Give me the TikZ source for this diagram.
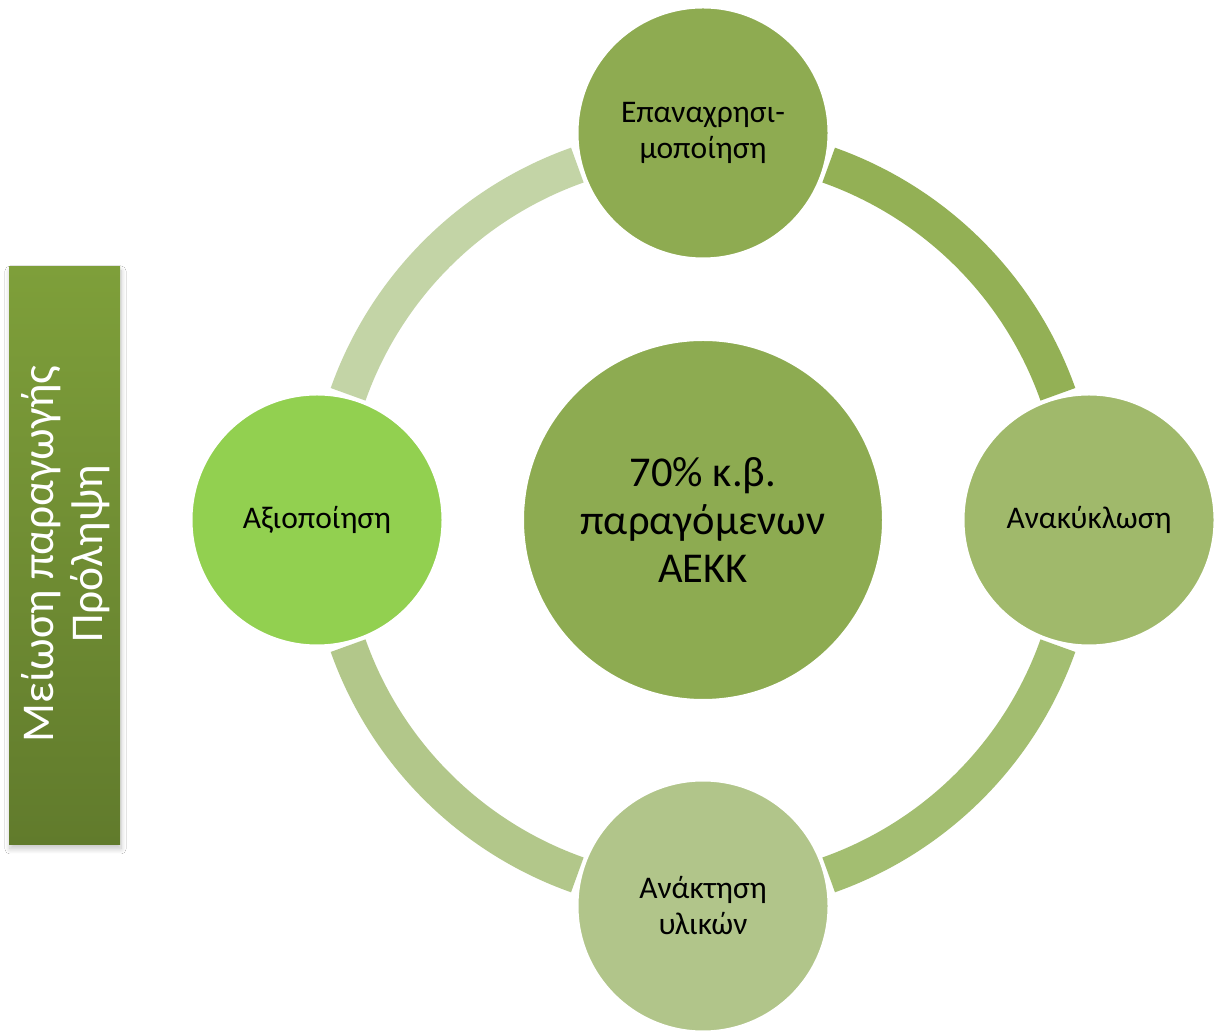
\documentclass[tikz,border=0pt]{standalone}
\usepackage{fontspec}
\setmainfont{Carlito}
\usetikzlibrary{shadows.blur}
\definecolor{cTop}{HTML}{8EAB51}
\definecolor{cMid}{HTML}{8DAB51}
\definecolor{cRight}{HTML}{A0B96B}
\definecolor{cBottom}{HTML}{B1C58A}
\definecolor{cLeft}{HTML}{92D050}
\definecolor{aTR}{HTML}{93B055}
\definecolor{aBR}{HTML}{A3BE71}
\definecolor{aBL}{HTML}{B2C78A}
\definecolor{aTL}{HTML}{C3D4A6}
\definecolor{barTop}{HTML}{7E9F3A}
\definecolor{barBot}{HTML}{617B2C}
\tikzset{
  ringseg/.style={line width=37pt, line cap=butt},
  bubble/.style={circle, draw=white, line width=3pt, inner sep=0pt,
    minimum size=252pt, align=center, text=black,
    font=\fontsize{31.5}{36}\selectfont},
  hub/.style={circle, draw=white, line width=3pt, inner sep=0pt,
    minimum size=361pt, align=center, text=black, fill=cMid,
    font=\fontsize{42.5}{48}\selectfont},
  sidebar/.style={rectangle, inner sep=0pt, minimum width=111pt,
    minimum height=578pt, top color=barTop, bottom color=barBot,
    blur shadow={shadow xshift=1pt, shadow yshift=-4pt,
      shadow blur radius=5pt, shadow opacity=22, shadow blur steps=12}},
  sidetext/.style={rotate=90, text=white, align=center, inner sep=0pt,
    font=\fontsize{45.5}{49}\selectfont}
}
\begin{document}
\begin{tikzpicture}[x=1pt,y=1pt]
\useasboundingbox (0,0) rectangle (1214,1030);
\fill[white] (0,0) rectangle (1214,1030);
\coordinate (C) at (703,510);
% ring segments
\draw[ringseg, aTR] ([shift={(19.5:376.5)}]C) arc[start angle=19.5, end angle=70.5, radius=376.5];
\draw[ringseg, aTL] ([shift={(109.5:376.5)}]C) arc[start angle=109.5, end angle=160.5, radius=376.5];
\draw[ringseg, aBL] ([shift={(199.5:376.5)}]C) arc[start angle=199.5, end angle=250.5, radius=376.5];
\draw[ringseg, aBR] ([shift={(289.5:376.5)}]C) arc[start angle=289.5, end angle=340.5, radius=376.5];
% circles
\node[hub] (hub) at (C) {70\% κ.β.\\παραγόμενων\\ΑΕΚΚ};
\node[bubble, fill=cTop] (reuse) at (703,897) {Επαναχρησι-\\μοποίηση};
\node[bubble, fill=cRight] (recycle) at (1089,510) {Ανακύκλωση};
\node[bubble, fill=cBottom] (recover) at (703,124) {Ανάκτηση\\υλικών};
\node[bubble, fill=cLeft] (valor) at (317,510) {Αξιοποίηση};
% side bar
\node[sidebar] (bar) at (64.5,474) {};
\node[sidetext] (bartext) at (66,476) {Μείωση παραγωγής\\Πρόληψη};
\end{tikzpicture}
\end{document}
